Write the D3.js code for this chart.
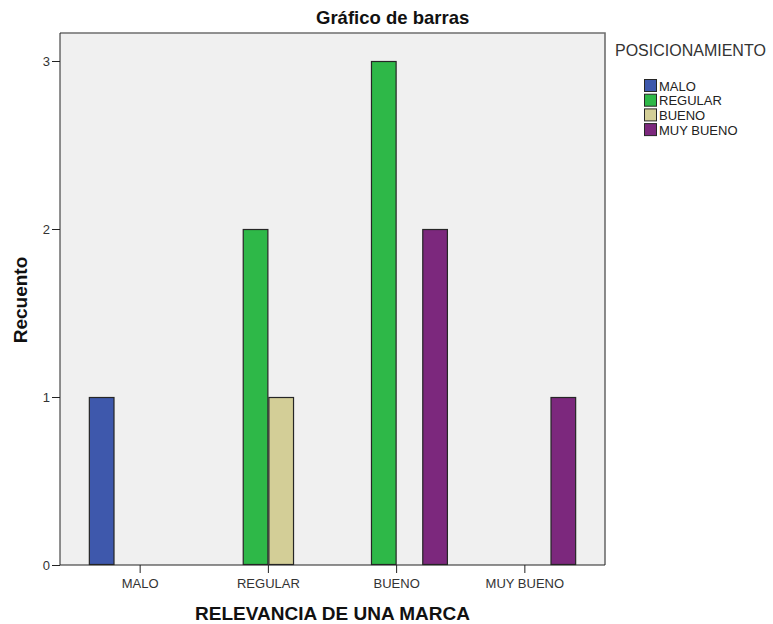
<!DOCTYPE html>
<html>
<head>
<meta charset="utf-8">
<script src="https://cdn.jsdelivr.net/npm/d3@7/dist/d3.min.js"></script>
<style>
  body { margin: 0; background: #fff; }
  svg { display: block; font-family: "Liberation Sans", Arial, sans-serif; }
</style>
</head>
<body>
<svg id="chart" width="773" height="624"></svg>
<script>
// Categories on the x axis (RELEVANCIA DE UNA MARCA)
const categories = ["MALO", "REGULAR", "BUENO", "MUY BUENO"];
// Series (POSICIONAMIENTO) and their colours
const series = ["MALO", "REGULAR", "BUENO", "MUY BUENO"];
const seriesColors = ["#3E58AC", "#2EB848", "#D3CE97", "#7C287D"];
// Counts: one array per series, aligned with categories
const countsMalo     = [1, 0, 0, 0];
const countsRegular  = [0, 2, 3, 0];
const countsBueno    = [0, 1, 0, 0];
const countsMuyBueno = [0, 0, 2, 1];
const yTicks = [0, 1, 2, 3];

const seriesValues = [countsMalo, countsRegular, countsBueno, countsMuyBueno];

const svg = d3.select("#chart");
const plot = { left: 60, right: 605, top: 33, bottom: 565 };

const x = d3.scaleBand()
  .domain(categories)
  .range([plot.left, plot.right])
  .paddingInner(0)
  .paddingOuter(0.125);

const bw = x.bandwidth();
const xs = d3.scaleBand()
  .domain(series)
  .range([bw * 0.1, bw * 0.9]);

const y = d3.scaleLinear().domain([0, 3]).range([plot.bottom, 61]);

// plot background
svg.append("rect")
  .attr("x", plot.left).attr("y", plot.top)
  .attr("width", plot.right - plot.left).attr("height", plot.bottom - plot.top)
  .attr("fill", "#F0F0F0");

// frame: top and right edges
svg.append("path")
  .attr("d", `M${plot.left},${plot.top}H${plot.right}V${plot.bottom}`)
  .attr("fill", "none").attr("stroke", "#6e6e6e").attr("stroke-width", 1.6);

// bars
const rows = [];
categories.forEach((c, ci) => {
  series.forEach((s, si) => {
    const v = seriesValues[si][ci];
    if (v > 0) rows.push({ c, s, v, color: seriesColors[si] });
  });
});

svg.append("g").selectAll("rect")
  .data(rows)
  .join("rect")
  .attr("x", d => x(d.c) + xs(d.s) + 0.5)
  .attr("y", d => y(d.v) + 0.5)
  .attr("width", xs.bandwidth() - 1)
  .attr("height", d => y(0) - y(d.v) - 1)
  .attr("fill", d => d.color)
  .attr("stroke", "#262626")
  .attr("stroke-width", 1.2);

// y axis
const yAxis = svg.append("g")
  .attr("transform", `translate(${plot.left},0)`)
  .call(d3.axisLeft(y).tickValues(yTicks).tickFormat(d3.format("d")).tickSize(8).tickPadding(2));
yAxis.select(".domain").attr("d", `M0,${plot.top}V${plot.bottom}`).attr("stroke", "#222");
yAxis.selectAll(".tick line").attr("stroke", "#222");
yAxis.selectAll("text").attr("font-size", 13).attr("fill", "#333")
  .attr("font-family", "Liberation Sans, Arial, sans-serif");

// x axis
const xAxis = svg.append("g")
  .attr("transform", `translate(0,${plot.bottom})`)
  .call(d3.axisBottom(x).tickSize(8).tickPadding(6));
xAxis.select(".domain").attr("d", `M${plot.left},0H${plot.right}`).attr("stroke", "#222");
xAxis.selectAll(".tick line").attr("stroke", "#222");
xAxis.selectAll("text").attr("font-size", 13).attr("fill", "#333")
  .attr("font-family", "Liberation Sans, Arial, sans-serif");

// titles
svg.append("text")
  .attr("x", 316).attr("y", 24)
  .attr("font-size", 18.5).attr("font-weight", "bold").attr("fill", "#111")
  .text("Gráfico de barras");

svg.append("text")
  .attr("x", (plot.left + plot.right) / 2).attr("y", 620)
  .attr("text-anchor", "middle")
  .attr("font-size", 19).attr("font-weight", "bold").attr("fill", "#111")
  .text("RELEVANCIA DE UNA MARCA");

svg.append("text")
  .attr("transform", `translate(27,300) rotate(-90)`)
  .attr("text-anchor", "middle")
  .attr("font-size", 19).attr("font-weight", "bold").attr("fill", "#111")
  .text("Recuento");

// legend
const legend = svg.append("g");
legend.append("text")
  .attr("x", 615).attr("y", 56)
  .attr("font-size", 16).attr("fill", "#333")
  .text("POSICIONAMIENTO");

const items = legend.selectAll("g.item")
  .data(series)
  .join("g")
  .attr("class", "item")
  .attr("transform", (d, i) => `translate(644,${79 + i * 14.7})`);

items.append("rect")
  .attr("x", 0.5).attr("y", 0.5)
  .attr("width", 12).attr("height", 12)
  .attr("fill", (d, i) => seriesColors[i])
  .attr("stroke", "#262626").attr("stroke-width", 1);

items.append("text")
  .attr("x", 15).attr("y", 11.5)
  .attr("font-size", 13).attr("fill", "#222")
  .text(d => d);
</script>
</body>
</html>
